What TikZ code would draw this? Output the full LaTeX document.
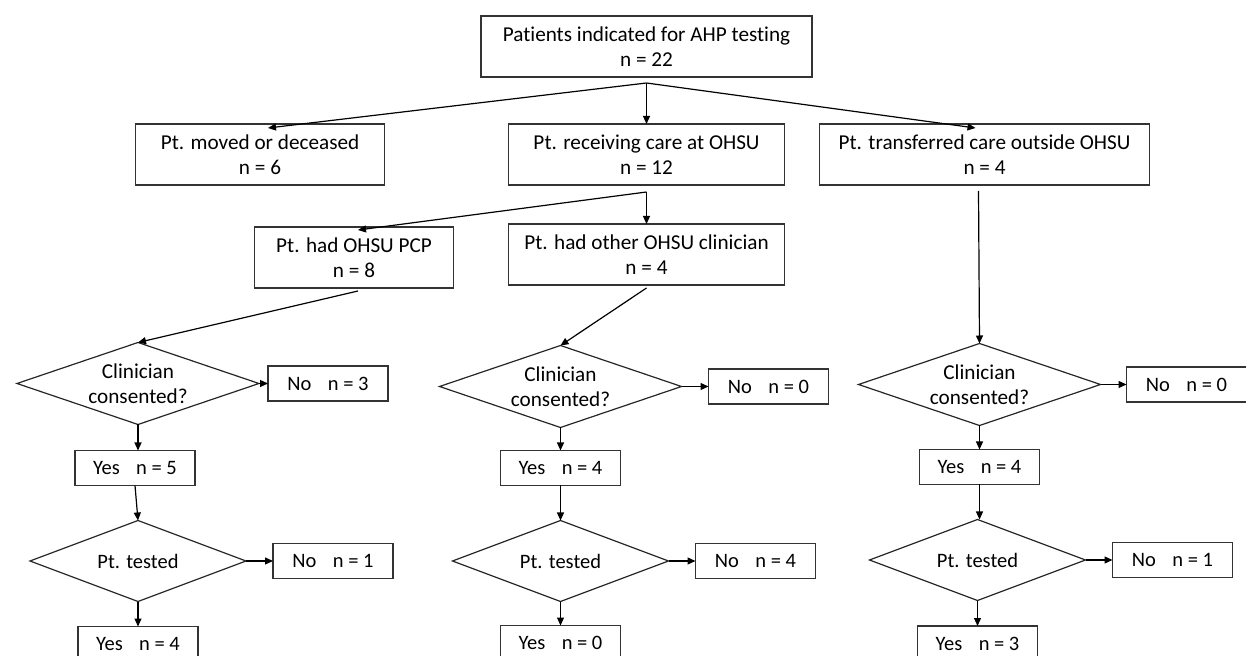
\documentclass[tikz,border=0pt]{standalone}
\usepackage{fontspec}
\setmainfont{Carlito}[Ligatures=NoCommon]
\usetikzlibrary{arrows.meta,positioning,shapes.geometric}

\begin{document}
\begin{tikzpicture}[x=0.5pt, y=-0.5pt, >={Triangle[length=4pt,width=3.5pt]}, node distance=12pt,
  font=\fontsize{10.25}{12.5}\selectfont,
  box/.style={draw=black!80, line width=0.6pt, align=center, inner sep=0pt, outer sep=0pt,
    minimum height=30.5pt, font=\fontsize{10.6}{12.5}\selectfont},
  smallbox/.style={draw=black!80, line width=0.6pt, inner sep=0pt, outer sep=0pt,
    minimum width=60pt, minimum height=17.5pt},
  decision/.style={draw=black!85, line width=0.6pt, diamond, shape aspect=3, align=center,
    inner sep=0pt, outer sep=0pt, minimum width=121pt, minimum height=41pt,
    font=\fontsize{10.6}{12.5}\selectfont},
  tested/.style={decision, minimum width=108pt, minimum height=40.5pt, font=\fontsize{10.25}{12.5}\selectfont},
  link/.style={->, line width=0.6pt}]
\useasboundingbox (0,0) rectangle (1246,656);
\clip (0,0) rectangle (1246,656);

\node[box, minimum width=165.5pt] (top) at (646.5,46.5) {Patients indicated for AHP testing\\n = 22};
\node[box, minimum width=138pt, below=23.5pt of top] (recv) {Pt. receiving care at OHSU\\n = 12};
\node[box, minimum width=124.5pt, left=62pt of recv] (moved) {Pt. moved or deceased\\n = 6};
\node[box, minimum width=165pt, right=17.5pt of recv] (transf) {Pt. transferred care outside OHSU\\n = 4};
\node[box, minimum width=138pt, below=19.5pt of recv] (other) {Pt. had other OHSU clinician\\n = 4};
\node[box, minimum width=99.5pt, left=27.5pt of other, yshift=-1.5pt] (pcp) {Pt. had OHSU PCP\\n = 8};

% left branch
\node[decision] (askL) at (138,383.5) {Clinician\\consented?};
\node[smallbox, right=4.5pt of askL] (noL) {No\hspace{.8em}n = 3};
\node[smallbox, below=13pt of askL, xshift=-1.5pt] (yesL) {Yes\hspace{.8em}n = 5};
\node[tested, below=17.5pt of yesL, xshift=1.5pt] (testL) {Pt. tested};
\node[smallbox, right=13.5pt of testL] (noL2) {No\hspace{.8em}n = 1};
\node[smallbox, below=12.5pt of testL] (yesL2) {Yes\hspace{.8em}n = 4};

% middle branch
\node[decision] (askM) at (560.5,386.5) {Clinician\\consented?};
\node[smallbox, right=13.5pt of askM] (noM) {No\hspace{.8em}n = 0};
\node[smallbox, below=11.5pt of askM] (yesM) {Yes\hspace{.8em}n = 4};
\node[tested, below=17.5pt of yesM] (testM) {Pt. tested};
\node[smallbox, right=13.5pt of testM] (noM2) {No\hspace{.8em}n = 4};
\node[smallbox, below=12pt of testM] (yesM2) {Yes\hspace{.8em}n = 0};

% right branch
\node[decision] (askR) at (979.5,384.5) {Clinician\\consented?};
\node[smallbox, right=13pt of askR] (noR) {No\hspace{.8em}n = 0};
\node[smallbox, below=12pt of askR] (yesR) {Yes\hspace{.8em}n = 4};
\node[tested, below=17.5pt of yesR, xshift=-1pt] (testR) {Pt. tested};
\node[smallbox, right=13.5pt of testR] (noR2) {No\hspace{.8em}n = 1};
\node[smallbox, below=12.75pt of testR] (yesR2) {Yes\hspace{.8em}n = 3};

\draw[link] ([yshift=-3pt]top.south) -- ([xshift=4pt,yshift=-2pt]moved.north);
\draw[link] ([yshift=-3pt]top.south) -- (recv.north);
\draw[link] ([yshift=-3pt]top.south) -- ([xshift=-4.5pt,yshift=-2pt]transf.north);
\draw[link] ([yshift=-3.5pt]recv.south) -- ([xshift=2pt,yshift=-1.5pt]pcp.north);
\draw[link] ([yshift=-3.5pt]recv.south) -- (other.north);
\draw[link] ([xshift=2pt,yshift=-1.5pt]pcp.south) -- (askL.north);
\draw[link] ([yshift=-1.5pt]other.south) -- (askM.north);
\draw[link] ([xshift=-3pt,yshift=-3pt]transf.south) -- (askR.north);

\draw[link] (askL.east) -- (noL.west);
\draw[link] (askL.south) -- (yesL.north -| askL.south);
\draw[link] (yesL.south) -- (testL.north);
\draw[link] (testL.east) -- (noL2.west);
\draw[link] (testL.south) -- (yesL2.north);

\draw[link] (askM.east) -- (noM.west);
\draw[link] (askM.south) -- (yesM.north);
\draw[link] (yesM.south) -- (testM.north);
\draw[link] (testM.east) -- (noM2.west);
\draw[link] (testM.south) -- (yesM2.north);

\draw[link] (askR.east) -- (noR.west);
\draw[link] (askR.south) -- (yesR.north);
\draw[link] (yesR.south) -- (testR.north -| yesR.south);
\draw[link] (testR.east) -- (noR2.west);
\draw[link] (testR.south) -- (yesR2.north);
\end{tikzpicture}
\end{document}
